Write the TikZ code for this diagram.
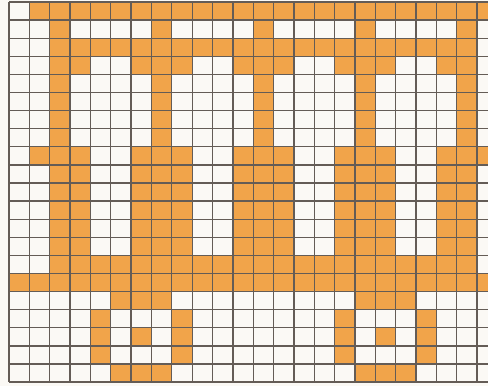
\documentclass[tikz,border=0pt]{standalone}
\usetikzlibrary{calc}
\definecolor{stitchorange}{RGB}{241,164,74}
\definecolor{paperwhite}{RGB}{251,249,245}
\definecolor{gridgray}{RGB}{100,92,86}
\tikzset{
    stitch/.style={fill=stitchorange},
    gridline/.style={draw=gridgray, line width=1.3pt},
    papercell/.style={fill=paperwhite}
}
% size of one chart square, in px
\newcommand{\cellw}{20.35}
\newcommand{\cellh}{18.1}
% one coloured square at (column, row), counted from the top left
\newcommand{\stitchcell}[2]{\fill[stitch] ({9+(#1)*\cellw},{2+(#2)*\cellh}) rectangle ++(\cellw,\cellh);}
\begin{document}
\begin{tikzpicture}[x=1pt, y=-1pt]
    \useasboundingbox (0,0) rectangle (488,386);
    \clip (0,0) rectangle (488,386);
    \fill[papercell] (0,0) rectangle (488,386);
    % roof
    \foreach \c in {1,...,23} {\stitchcell{\c}{0}}
    \foreach \r in {1,4,5,6,7} \foreach \c in {2,7,12,17,22} {\stitchcell{\c}{\r}}
    \foreach \r in {2,14} \foreach \c in {2,...,22} {\stitchcell{\c}{\r}}
    % window frames
    \foreach \r in {3,8,9,10,11,12,13} \foreach \c in {2,3,6,7,8,11,12,13,16,17,18,21,22} {\stitchcell{\c}{\r}}
    \stitchcell{1}{8} \stitchcell{23}{8}
    % floor
    \foreach \c in {0,...,23} {\stitchcell{\c}{15}}
    % wheels
    \foreach \w in {6,18} {
        \foreach \c in {-1,0,1} {\stitchcell{\w+\c}{16} \stitchcell{\w+\c}{20}}
        \foreach \r in {17,18,19} {\stitchcell{\w-2}{\r} \stitchcell{\w+2}{\r}}
        \stitchcell{\w}{18}
    }
    % chart grid
    \foreach \k in {0,...,23} \draw[gridline] ({9+\k*\cellw},2) -- ({9+\k*\cellw},{2+21*\cellh});
    \foreach \k in {0,...,21} \draw[gridline] (9,{2+\k*\cellh}) -- (488,{2+\k*\cellh});
\end{tikzpicture}
\end{document}
